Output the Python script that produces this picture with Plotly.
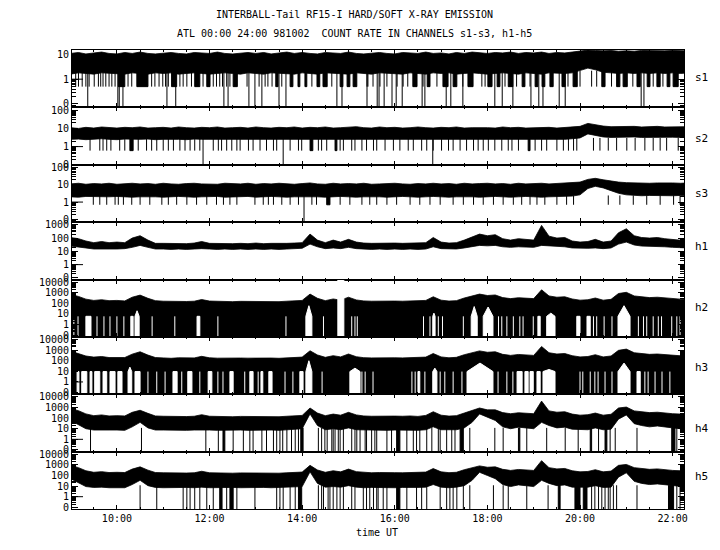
import plotly.graph_objects as go
from plotly.subplots import make_subplots

# ---------------- data ----------------
# 10-minute sample grid, decimal hours UT
TIME = [
    9.00, 9.17, 9.33, 9.50, 9.67, 9.83,
    10.00, 10.17, 10.33, 10.50, 10.67, 10.83,
    11.00, 11.17, 11.33, 11.50, 11.67, 11.83,
    12.00, 12.17, 12.33, 12.50, 12.67, 12.83,
    13.00, 13.17, 13.33, 13.50, 13.67, 13.83,
    14.00, 14.17, 14.33, 14.50, 14.67, 14.83,
    15.00, 15.17, 15.33, 15.50, 15.67, 15.83,
    16.00, 16.17, 16.33, 16.50, 16.67, 16.83,
    17.00, 17.17, 17.33, 17.50, 17.67, 17.83,
    18.00, 18.17, 18.33, 18.50, 18.67, 18.83,
    19.00, 19.17, 19.33, 19.50, 19.67, 19.83,
    20.00, 20.17, 20.33, 20.50, 20.67, 20.83,
    21.00, 21.17, 21.33, 21.50, 21.67, 21.83,
    22.00, 22.17, 22.33,
]

# ---- s1: upper / lower edge of the dense band, dropouts
S1_HI = [11, 12, 10.5, 11.5, 12.5, 11, 10.5, 12, 11, 12.5, 11, 10.5,
         11.5, 12, 11, 10.5, 12, 11.5, 11, 12.5, 11, 10.5, 11.5, 12,
         11, 12, 10.5, 11.5, 12.5, 11, 12, 11, 10.5, 12, 11.5, 11,
         12.5, 11, 10.5, 11.5, 12, 11, 10.5, 12, 11.5, 11, 12.5, 11,
         11.5, 10.5, 12, 11, 12.5, 11.5, 11, 12, 11.5, 12.5, 11, 12,
         11.5, 12.5, 11, 12, 11.5, 12.5, 13.5, 15, 14.5, 14, 14.5, 13.5,
         14, 13.5, 14.5, 14, 13.5, 14, 14.5, 14, 14]
S1_LO = [1.6, 1.8, 1.7, 1.6, 1.8, 1.7, 1.7, 1.6, 1.8, 1.7, 1.6, 1.8,
         1.7, 1.8, 1.6, 1.7, 1.8, 1.7, 1.6, 1.7, 1.8, 1.7, 1.6, 1.8,
         1.7, 1.6, 1.8, 1.7, 1.7, 1.6, 1.8, 1.7, 1.6, 1.8, 1.7, 1.7,
         1.6, 1.8, 1.7, 1.6, 1.8, 1.7, 1.7, 1.6, 1.8, 1.7, 1.6, 1.8,
         1.7, 1.8, 1.6, 1.7, 1.8, 1.7, 1.6, 1.7, 1.8, 1.7, 1.6, 1.8,
         1.7, 1.6, 1.8, 1.7, 1.7, 1.8, 2.2, 2.8, 2.4, 1.9, 1.8, 1.7,
         1.8, 1.7, 1.8, 1.7, 1.8, 1.7, 1.8, 1.7, 1.8]
S1_MID_LEVEL = 0.5
S1_MID_SPIKES = [9.11, 9.17, 9.25, 9.33, 9.40, 9.51, 9.60, 9.65, 9.70, 9.76, 9.83, 9.89,
                 9.96, 10.24, 10.32, 10.75, 10.82, 10.91, 10.99, 11.05, 11.11, 11.36, 11.43,
                 11.51, 11.61, 11.86, 12.08, 12.15, 12.22, 12.28, 12.37, 12.44, 12.81, 13.07,
                 13.20, 13.26, 13.35, 13.56, 14.21, 14.64, 15.40, 15.42, 15.53, 15.68, 15.83,
                 16.05, 16.18, 16.28, 16.61, 16.91, 17.47, 17.88, 17.95, 18.38, 18.63, 18.92,
                 19.74, 20.00, 20.25, 20.36, 20.68, 21.14, 21.58, 21.79]
S1_MID_START = [10.03, 10.43, 11.18, 11.68, 11.94, 12.51, 13.43, 13.74, 13.91, 14.06, 14.32,
                14.45, 14.82, 14.97, 15.10, 16.39, 16.70, 17.04, 17.26, 17.58, 18.01, 18.21,
                18.45, 18.75, 19.03, 19.18, 19.35, 19.61, 19.85, 20.47, 20.79, 20.93, 21.23,
                21.45, 21.66, 21.88, 22.01]
S1_MID_END = [10.17, 10.67, 11.29, 11.79, 12.01, 12.60, 13.48, 13.80, 13.95, 14.10, 14.38,
              14.54, 14.88, 15.03, 15.18, 16.48, 16.76, 17.15, 17.34, 17.69, 18.10, 18.27,
              18.55, 18.81, 19.09, 19.24, 19.42, 19.68, 19.94, 20.54, 20.86, 21.02, 21.30,
              21.51, 21.73, 21.94, 22.12]
S1_ZERO_SPIKES = [9.37, 10.02, 10.05, 10.13, 11.08, 11.27, 12.31, 12.40, 12.85, 12.98, 13.13,
                  13.50, 13.65, 14.75, 14.86, 15.40, 15.62, 15.66, 15.77, 15.94, 16.03, 16.16,
                  16.59, 16.65, 17.11, 17.21, 17.47, 18.16, 18.32, 18.55, 18.94, 19.11, 19.20,
                  19.55, 19.68, 21.32, 21.38]

# ---- s2
S2_HI = [11, 10, 11.5, 10.5, 12, 11, 10.5, 11.5, 11, 12, 10.5, 11,
         11.5, 10.5, 12, 11, 10.5, 11.5, 11, 12, 10.5, 11, 11.5, 10.5,
         12, 11, 10.5, 11.5, 11, 12, 10.5, 11.5, 11, 12, 10.5, 11,
         11.5, 12.5, 11, 10.5, 12, 11, 11.5, 10.5, 11, 12, 11, 10.5,
         11.5, 11, 12, 10.5, 11, 11.5, 11, 10.5, 12, 11, 11.5, 10.5,
         11, 12, 11.5, 10.5, 11, 11.5, 13, 19, 16, 13.5, 12.5, 13,
         12.5, 13, 12, 12.5, 13, 12, 12.5, 13, 12.5]
S2_LO = [2.5, 2.6, 2.4, 2.5, 2.7, 2.5, 2.4, 2.6, 2.5, 2.5, 2.6, 2.4,
         2.5, 2.6, 2.5, 2.4, 2.6, 2.5, 2.5, 2.4, 2.6, 2.5, 2.5, 2.6,
         2.4, 2.5, 2.6, 2.5, 2.4, 2.5, 2.6, 2.5, 2.5, 2.4, 2.6, 2.5,
         2.5, 2.6, 2.4, 2.5, 2.6, 2.5, 2.4, 2.5, 2.6, 2.5, 2.5, 2.4,
         2.6, 2.5, 2.5, 2.6, 2.4, 2.5, 2.5, 2.6, 2.5, 2.4, 2.6, 2.5,
         2.5, 2.4, 2.6, 2.5, 2.5, 2.7, 3.0, 5.0, 4.0, 3.4, 3.2, 3.3,
         3.2, 3.4, 3.2, 3.3, 3.2, 3.4, 3.3, 3.2, 3.3]
S2_MID_LEVEL = 0.6
S2_MID_SPIKES = [9.42, 9.63, 9.70, 9.78, 9.87, 10.06, 10.17, 10.46, 10.64, 10.75, 10.86, 11.00,
                 11.11, 11.22, 11.36, 11.47, 11.58, 11.68, 11.79, 12.08, 12.19, 12.26, 12.37,
                 12.48, 12.59, 12.66, 12.84, 12.94, 13.09, 13.23, 13.38, 13.45, 13.74, 13.92,
                 13.99, 14.35, 14.42, 14.53, 14.82, 14.89, 15.07, 15.14, 15.29, 15.39, 15.54,
                 15.61, 15.79, 15.97, 16.11, 16.29, 16.40, 16.58, 16.69, 16.83, 17.01, 17.16,
                 17.26, 17.41, 17.55, 17.70, 17.80, 17.91, 18.02, 18.16, 18.31, 18.45, 18.53,
                 18.67, 19.03, 19.17, 19.28, 19.50, 19.64, 19.75, 19.86, 19.93, 20.29, 20.43,
                 20.61, 20.79, 21.01, 21.19, 21.40, 21.58, 21.73, 21.87, 22.12]
S2_MID_START = [10.28, 14.17, 14.71, 18.88]
S2_MID_END = [10.35, 14.23, 14.75, 18.92]
S2_ZERO_SPIKES = [11.86, 13.59, 16.82]

# ---- s3
S3_HI = [11, 12, 10.5, 11.5, 11, 12, 10.5, 11, 12, 11, 11.5, 10.5,
         12, 11, 10.5, 11.5, 12, 11, 11, 10.5, 12, 11.5, 11, 12,
         10.5, 11.5, 11, 12, 11, 10.5, 11.5, 12.5, 11, 10.5, 12, 11,
         11.5, 11, 12, 10.5, 11, 11.5, 12, 11, 10.5, 11.5, 11, 12,
         11, 11.5, 10.5, 12, 11, 11.5, 12, 11, 11.5, 10.5, 12, 11,
         11.5, 12, 11, 11.5, 12, 12.5, 14, 20, 23, 19, 16, 14,
         13, 12.5, 13, 12, 12.5, 13, 12.5, 12, 12.5]
S3_LO = [2.0, 1.9, 2.1, 2.0, 1.9, 2.0, 2.1, 2.0, 1.9, 2.0, 2.1, 2.0,
         1.9, 2.0, 2.1, 2.0, 1.9, 2.0, 2.0, 2.1, 1.9, 2.0, 2.0, 2.1,
         1.9, 2.0, 2.1, 2.0, 1.9, 2.0, 2.0, 2.1, 2.0, 1.9, 2.0, 2.1,
         2.0, 1.9, 2.0, 2.1, 2.0, 1.9, 2.0, 2.1, 2.0, 1.9, 2.0, 2.1,
         2.0, 1.9, 2.0, 2.1, 2.0, 1.9, 2.0, 2.1, 2.0, 1.9, 2.0, 2.1,
         2.0, 1.9, 2.0, 2.1, 2.0, 2.2, 2.6, 6.0, 8.0, 6.5, 4.5, 3.2,
         2.6, 2.4, 2.3, 2.4, 2.3, 2.4, 2.3, 2.4, 2.3]
S3_MID_LEVEL = 0.7
S3_MID_SPIKES = [9.49, 9.63, 9.78, 9.96, 10.03, 10.14, 10.32, 10.50, 10.71, 10.97, 11.11, 11.29,
                 11.51, 11.72, 11.94, 12.15, 12.30, 12.44, 12.59, 12.98, 13.16, 13.27, 13.38,
                 13.56, 13.74, 13.92, 14.21, 14.31, 14.82, 15.03, 15.29, 15.46, 15.61, 15.83,
                 16.04, 16.33, 16.54, 16.76, 16.98, 17.26, 17.48, 17.70, 17.91, 18.13, 18.34,
                 18.56, 18.74, 18.92, 19.07, 19.24, 19.50, 19.71, 19.86, 20.61, 20.86, 21.15,
                 21.44, 21.73, 22.02, 22.16]
S3_MID_START = [14.53]
S3_MID_END = [14.60]
S3_ZERO_SPIKES = [14.04]

# ---- h1
H1_HI = [110, 90, 60, 45, 55, 45, 50, 45, 100, 150, 70, 40,
         40, 38, 40, 38, 42, 55, 40, 38, 40, 38, 40, 38,
         42, 38, 40, 38, 40, 42, 45, 200, 70, 45, 70, 50,
         80, 50, 42, 40, 42, 40, 42, 40, 42, 40, 45, 110,
         50, 42, 45, 70, 120, 200, 150, 180, 90, 70, 90, 80,
         70, 900, 140, 100, 110, 60, 50, 55, 80, 50, 60, 250,
         500, 150, 110, 100, 110, 90, 80, 70, 60]
H1_LO = [25, 22, 18, 15, 16, 15, 15, 16, 20, 28, 20, 15,
         15, 14, 15, 14, 15, 16, 15, 14, 15, 14, 15, 14,
         15, 14, 15, 14, 15, 15, 17, 35, 22, 16, 18, 16,
         20, 16, 15, 14, 15, 14, 15, 14, 15, 14, 15, 22,
         16, 15, 15, 18, 22, 28, 26, 28, 22, 20, 22, 20,
         20, 28, 26, 22, 22, 18, 17, 17, 18, 16, 18, 35,
         50, 30, 25, 24, 25, 22, 20, 18, 18]

# ---- h2 (count rate drops to zero almost continuously; white gaps listed)
H2_HI = [700, 450, 250, 190, 220, 180, 190, 170, 380, 600, 300, 180,
         160, 150, 165, 150, 160, 230, 165, 150, 160, 145, 155, 150,
         160, 150, 155, 145, 160, 170, 190, 750, 300, 180, 260, 200,
         380, 210, 170, 160, 170, 155, 165, 160, 170, 155, 190, 420,
         200, 165, 180, 320, 520, 750, 550, 620, 350, 280, 340, 300,
         280, 1900, 500, 380, 420, 260, 200, 220, 320, 200, 240, 850,
         1100, 500, 400, 350, 380, 320, 280, 250, 230]
H2_GAP_LEVEL = 6
H2_GAP_SINGLE = [9.07, 9.16, 9.57, 9.72, 9.85, 10.00, 10.15, 10.76, 11.25, 12.18, 13.65, 14.46,
                 15.07, 15.14, 15.19, 16.62, 16.76, 16.94, 17.03, 17.48, 18.24, 18.31, 18.42,
                 18.56, 18.70, 18.77, 18.99, 20.29, 20.36, 20.52, 20.69, 21.26, 21.37, 21.44,
                 21.58, 21.69, 21.76, 21.98, 22.09, 22.16]
H2_GAP_START = [9.33, 10.30, 10.39, 11.73, 14.08, 16.82, 17.65, 17.91, 19.09, 19.28, 19.93, 20.15, 20.82]
H2_GAP_END = [9.44, 10.35, 10.48, 11.79, 14.21, 16.87, 17.78, 18.12, 19.14, 19.46, 20.00, 20.22, 21.08]
H2_GAP_PEAK = [6, 6, 20, 6, 60, 12, 50, 45, 6, 12, 6, 6, 60]
H2_NODATA_START = [14.77]
H2_NODATA_END = [14.90]

# ---- h3
H3_HI = [800, 500, 280, 220, 250, 200, 210, 200, 420, 700, 340, 200,
         185, 170, 190, 175, 185, 260, 190, 175, 185, 170, 180, 175,
         185, 175, 180, 170, 185, 195, 220, 870, 350, 210, 300, 230,
         430, 240, 195, 185, 195, 180, 190, 185, 195, 180, 220, 480,
         230, 190, 210, 370, 600, 850, 630, 700, 400, 320, 390, 340,
         320, 2200, 570, 430, 480, 300, 230, 250, 370, 230, 280, 950,
         1250, 570, 460, 400, 430, 370, 320, 290, 260]
H3_GAP_LEVEL = 9.5
H3_GAP_SINGLE = [10.67, 10.86, 11.04, 11.40, 11.79, 12.18, 12.29, 12.76, 13.05, 13.63, 13.80,
                 14.43, 15.29, 15.36, 15.53, 16.37, 16.44, 16.65, 16.98, 17.08, 17.26, 17.45,
                 18.23, 18.42, 18.55, 20.00, 20.06, 20.22, 20.32, 20.39, 20.54, 20.69, 21.40,
                 21.47, 21.62, 21.77, 21.94]
H3_GAP_START = [9.14, 9.24, 9.42, 9.52, 9.70, 9.85, 10.02, 10.24, 10.39, 11.21, 11.53, 11.97,
                12.44, 12.87, 13.11, 13.28, 13.95, 14.08, 15.03, 16.50, 16.82, 17.56, 18.64,
                18.81, 18.92, 19.07, 19.20, 20.82, 21.23]
H3_GAP_END = [9.18, 9.35, 9.46, 9.63, 9.78, 9.96, 10.11, 10.32, 10.50, 11.30, 11.62, 12.05,
              12.51, 12.94, 13.15, 13.35, 14.02, 14.21, 15.25, 16.54, 16.91, 18.12, 18.75,
              18.88, 18.99, 19.14, 19.46, 21.08, 21.30]
H3_GAP_PEAK = [9.5, 9.5, 9.5, 9.5, 9.5, 9.5, 9.5, 25, 9.5, 9.5, 9.5, 9.5,
               9.5, 9.5, 9.5, 9.5, 9.5, 100, 20, 9.5, 20, 60, 9.5,
               9.5, 9.5, 9.5, 15, 60, 9.5]

# ---- h4
H4_HI = [800, 500, 250, 170, 200, 160, 170, 160, 350, 550, 280, 160,
         150, 140, 150, 140, 150, 210, 150, 140, 150, 135, 145, 140,
         150, 140, 145, 135, 150, 160, 180, 900, 300, 170, 240, 190,
         350, 200, 160, 150, 160, 145, 155, 150, 160, 145, 180, 400,
         190, 155, 170, 300, 500, 900, 600, 600, 330, 260, 320, 280,
         260, 4000, 480, 360, 400, 240, 190, 210, 300, 190, 230, 900,
         1100, 480, 380, 330, 360, 300, 260, 240, 220]
H4_LO = [60, 25, 10, 7.5, 8, 7.5, 7.5, 7, 15, 40, 12, 7.5,
         7.5, 7, 7.5, 7, 7.5, 8, 7.5, 7, 7.5, 7, 7.5, 7,
         7.5, 7, 7.5, 7, 7.5, 8, 10, 250, 20, 8, 10, 8,
         12, 8, 7.5, 7, 7.5, 7, 7.5, 7, 7.5, 7, 8, 15,
         8, 7.5, 8, 12, 40, 250, 120, 60, 15, 10, 14, 12,
         10, 40, 20, 12, 14, 9, 8, 8, 12, 8, 9, 80,
         200, 30, 20, 15, 18, 14, 12, 10, 9]
H4_ZERO_SPIKES = [9.43, 10.53, 11.92, 12.19, 12.51, 12.73, 12.87, 12.94, 13.13, 13.23, 13.38,
                  13.45, 13.52, 13.58, 13.67, 13.77, 13.85, 13.92, 14.35, 14.42, 14.49, 14.54,
                  14.64, 14.67, 14.71, 14.78, 14.82, 14.89, 15.07, 15.14, 15.18, 15.25, 15.36,
                  15.39, 15.50, 15.57, 15.61, 15.83, 15.93, 16.26, 16.40, 16.47, 16.54, 16.69,
                  16.80, 16.94, 16.98, 17.12, 17.23, 17.30, 17.62, 18.16, 18.34, 18.85, 19.28,
                  19.68, 19.96, 20.40, 20.65, 20.76, 21.23, 22.09]
H4_ZERO_START = [12.29, 13.97, 16.04, 17.41, 18.67, 20.22, 20.54, 21.98]
H4_ZERO_END = [12.33, 14.02, 16.11, 17.48, 18.70, 20.25, 20.58, 22.05]

# ---- h5
H5_HI = [900, 550, 280, 200, 230, 190, 200, 190, 400, 650, 320, 190,
         180, 170, 180, 170, 180, 250, 180, 170, 180, 165, 175, 170,
         180, 170, 175, 165, 180, 190, 210, 900, 330, 200, 280, 220,
         400, 230, 190, 180, 190, 175, 185, 180, 190, 175, 210, 450,
         220, 185, 200, 350, 550, 800, 600, 650, 380, 300, 370, 330,
         300, 2500, 550, 420, 460, 280, 220, 240, 350, 220, 260, 900,
         1100, 550, 440, 380, 420, 350, 300, 280, 250]
H5_LO = [50, 22, 9, 7.5, 8, 7, 7.5, 7, 14, 35, 11, 7.5,
         7, 7.5, 7, 7.5, 7, 8, 7, 7.5, 7, 7.5, 7, 7.5,
         7, 7.5, 7, 7.5, 7, 8, 9, 220, 18, 8, 9, 8,
         11, 8, 7, 7.5, 7, 7.5, 7, 7.5, 7, 7.5, 8, 14,
         8, 7, 8, 11, 35, 200, 100, 50, 14, 9, 13, 11,
         9, 35, 18, 11, 13, 8, 7.5, 8, 11, 7.5, 8, 70,
         180, 28, 18, 14, 16, 13, 11, 9, 8]
H5_ZERO_SPIKES = [10.50, 10.86, 11.43, 11.51, 11.58, 11.68, 11.79, 11.94, 12.08, 12.37, 12.59,
                  12.98, 13.45, 13.52, 13.59, 13.74, 13.85, 14.35, 14.42, 14.46, 14.56, 14.60,
                  14.67, 14.75, 14.82, 14.89, 15.07, 15.14, 15.32, 15.39, 15.46, 15.54, 15.61,
                  15.64, 15.75, 15.83, 16.26, 16.47, 16.58, 16.69, 16.98, 17.12, 17.19, 17.26,
                  17.34, 17.48, 17.62, 18.13, 18.34, 18.45, 18.85, 19.31, 20.25, 20.32, 20.40,
                  20.47, 20.54, 20.61, 20.65, 20.72, 20.79, 21.23, 22.09, 22.16]
H5_ZERO_START = [12.22, 12.44, 13.92, 16.04, 19.53, 19.89, 20.07, 21.91]
H5_ZERO_END = [12.27, 12.51, 13.99, 16.11, 19.57, 20.00, 20.15, 22.02]

CHANNELS = ["s1", "s2", "s3", "h1", "h2", "h3", "h4", "h5"]
TITLE = "INTERBALL-Tail RF15-I HARD/SOFT X-RAY EMISSION"
SUBTITLE = "ATL 00:00 24:00 981002  COUNT RATE IN CHANNELS s1-s3, h1-h5"
HOUR_TICKS = [10, 12, 14, 16, 18, 20, 22]
HOUR_LABELS = ["10:00", "12:00", "14:00", "16:00", "18:00", "20:00", "22:00"]

for arr in (S1_HI, S1_LO, S2_HI, S2_LO, S3_HI, S3_LO, H1_HI, H1_LO, H2_HI, H3_HI,
            H4_HI, H4_LO, H5_HI, H5_LO):
    assert len(arr) == len(TIME), len(arr)

# ---------------- drawing ----------------
ZERO_COUNT = 0.01   # a zero count rate sits on the floor of its log panel
FONT = "DejaVu Sans Mono"
BLACK = "#000000"
WHITE = "#ffffff"

fig = make_subplots(rows=8, cols=1, shared_xaxes=True, vertical_spacing=0)


def add_band(row, lo, hi):
    fig.add_trace(go.Scatter(x=TIME, y=lo, mode="lines", line=dict(color=BLACK, width=0.8),
                             hoverinfo="skip", showlegend=False), row=row, col=1)
    fig.add_trace(go.Scatter(x=TIME, y=hi, mode="lines", fill="tonexty", fillcolor=BLACK,
                             line=dict(color=BLACK, width=0.8),
                             hoverinfo="skip", showlegend=False), row=row, col=1)


def add_floor_band(row, hi):
    xs = TIME + TIME[::-1]
    ys = hi + [ZERO_COUNT] * len(TIME)
    fig.add_trace(go.Scatter(x=xs, y=ys, mode="lines", fill="toself", fillcolor=BLACK,
                             line=dict(color=BLACK, width=0.8),
                             hoverinfo="skip", showlegend=False), row=row, col=1)


def add_rects(row, starts, ends, top, bottom, color):
    xs, ys = [], []
    for a, b in zip(starts, ends):
        xs += [a, a, b, b, a, None]
        ys += [top, bottom, bottom, top, top, None]
    fig.add_trace(go.Scatter(x=xs, y=ys, mode="lines", fill="toself", fillcolor=color,
                             line=dict(color=color, width=1),
                             hoverinfo="skip", showlegend=False), row=row, col=1)


def add_spikes(row, times, top, bottom, color):
    xs, ys = [], []
    for t in times:
        xs += [t, t, None]
        ys += [top, bottom, None]
    fig.add_trace(go.Scatter(x=xs, y=ys, mode="lines", line=dict(color=color, width=1),
                             hoverinfo="skip", showlegend=False), row=row, col=1)


def add_gaps(row, starts, ends, peaks, level):
    xs, ys = [], []
    for a, b, p in zip(starts, ends, peaks):
        if p <= level:
            xs += [a, a, b, b, a, None]
            ys += [ZERO_COUNT, level, level, ZERO_COUNT, ZERO_COUNT, None]
        else:
            m = (a + b) / 2
            xs += [a, a, m, b, b, a, None]
            ys += [ZERO_COUNT, level, p, level, ZERO_COUNT, ZERO_COUNT, None]
    fig.add_trace(go.Scatter(x=xs, y=ys, mode="lines", fill="toself", fillcolor=WHITE,
                             line=dict(color=WHITE, width=1),
                             hoverinfo="skip", showlegend=False), row=row, col=1)


# s1
add_band(1, S1_LO, S1_HI)
add_spikes(1, S1_MID_SPIKES, 2.2, S1_MID_LEVEL, BLACK)
add_rects(1, S1_MID_START, S1_MID_END, 2.2, S1_MID_LEVEL, BLACK)
add_spikes(1, S1_ZERO_SPIKES, 2.2, ZERO_COUNT, BLACK)
# s2
add_band(2, S2_LO, S2_HI)
add_spikes(2, S2_MID_SPIKES, 3.0, S2_MID_LEVEL, BLACK)
add_rects(2, S2_MID_START, S2_MID_END, 3.0, S2_MID_LEVEL, BLACK)
add_spikes(2, S2_ZERO_SPIKES, 3.0, ZERO_COUNT, BLACK)
# s3
add_band(3, S3_LO, S3_HI)
add_spikes(3, S3_MID_SPIKES, 2.4, S3_MID_LEVEL, BLACK)
add_rects(3, S3_MID_START, S3_MID_END, 2.4, S3_MID_LEVEL, BLACK)
add_spikes(3, S3_ZERO_SPIKES, 2.4, ZERO_COUNT, BLACK)
# h1
add_band(4, H1_LO, H1_HI)
# h2
add_floor_band(5, H2_HI)
add_spikes(5, H2_GAP_SINGLE, H2_GAP_LEVEL, ZERO_COUNT, WHITE)
add_gaps(5, H2_GAP_START, H2_GAP_END, H2_GAP_PEAK, H2_GAP_LEVEL)
add_rects(5, H2_NODATA_START, H2_NODATA_END, 1e5, ZERO_COUNT, WHITE)
# h3
add_floor_band(6, H3_HI)
add_spikes(6, H3_GAP_SINGLE, H3_GAP_LEVEL, ZERO_COUNT, WHITE)
add_gaps(6, H3_GAP_START, H3_GAP_END, H3_GAP_PEAK, H3_GAP_LEVEL)
# h4
add_band(7, H4_LO, H4_HI)
add_spikes(7, H4_ZERO_SPIKES, 12, ZERO_COUNT, BLACK)
add_rects(7, H4_ZERO_START, H4_ZERO_END, 12, ZERO_COUNT, BLACK)
# h5
add_band(8, H5_LO, H5_HI)
add_spikes(8, H5_ZERO_SPIKES, 12, ZERO_COUNT, BLACK)
add_rects(8, H5_ZERO_START, H5_ZERO_END, 12, ZERO_COUNT, BLACK)

# ---------------- axes ----------------
Y_RANGES = [(-1.14, 1.18), (-1.0, 2.16), (-1.15, 2.14), (-1.12, 3.2),
            (-1.16, 4.25), (-1.16, 4.25), (-1.16, 4.25), (-1.16, 4.25)]
Y_TOP_DECADE = [1, 2, 2, 3, 4, 4, 4, 4]
MINOR_VALS = [m * 10.0 ** e for e in range(-2, 5) for m in range(2, 10)]

fig.update_xaxes(range=[9.03, 22.245], showline=True, linecolor=BLACK, linewidth=1,
                 mirror="ticks", ticks="inside", ticklen=4, tickwidth=1, tickcolor=BLACK,
                 tickmode="array", tickvals=HOUR_TICKS, ticktext=HOUR_LABELS,
                 showgrid=False, zeroline=False, automargin=False,
                 minor=dict(ticks="inside", ticklen=2, tickwidth=1, tickcolor=BLACK,
                            tickmode="linear", tick0=9, dtick=0.5, showgrid=False),
                 tickfont=dict(family=FONT, size=10, color=BLACK))

for i in range(8):
    top = Y_TOP_DECADE[i]
    vals = [10.0 ** e for e in range(-1, top + 1)]
    texts = ["0"] + [str(int(round(v))) for v in vals[1:]]
    fig.update_yaxes(type="log", range=list(Y_RANGES[i]), showline=True, linecolor=BLACK,
                     linewidth=1, mirror="ticks", ticks="inside", ticklen=6, tickwidth=1,
                     tickcolor=BLACK, tickmode="array", tickvals=vals, ticktext=texts,
                     showgrid=False, zeroline=False, automargin=False,
                     minor=dict(ticks="inside", ticklen=4, tickwidth=1, tickcolor=BLACK,
                                tickmode="array", tickvals=MINOR_VALS, showgrid=False),
                     tickfont=dict(family=FONT, size=10, color=BLACK),
                     row=i + 1, col=1)
    fig.add_shape(type="line", xref="x domain", yref="y", x0=0, x1=0.018, y0=1, y1=1,
                  line=dict(color=BLACK, width=1), row=i + 1, col=1)

# ---------------- text ----------------
ann = []
LABEL_Y = [0.939, 0.808, 0.688, 0.571, 0.438, 0.309, 0.176, 0.070]
for name, yy in zip(CHANNELS, LABEL_Y):
    ann.append(dict(text=name, x=1.015, y=yy, xref="paper", yref="paper",
                    xanchor="left", yanchor="middle", showarrow=False,
                    font=dict(family=FONT, size=11, color=BLACK)))
ann.append(dict(text=TITLE, x=0.461, y=1.078, xref="paper", yref="paper", xanchor="center",
                yanchor="middle", showarrow=False, font=dict(family=FONT, size=10, color=BLACK)))
ann.append(dict(text=SUBTITLE, x=0.461, y=1.037, xref="paper", yref="paper", xanchor="center",
                yanchor="middle", showarrow=False, font=dict(family=FONT, size=10, color=BLACK)))
ann.append(dict(text="time UT", x=0.498, y=-0.052, xref="paper", yref="paper", xanchor="center",
                yanchor="middle", showarrow=False, font=dict(family=FONT, size=10, color=BLACK)))

fig.update_layout(width=720, height=550,
                  margin=dict(l=72, r=36, t=50, b=41, pad=0, autoexpand=False),
                  paper_bgcolor=WHITE, plot_bgcolor=WHITE, showlegend=False,
                  annotations=ann, font=dict(family=FONT, size=10, color=BLACK))

fig.write_html("out.html", config={"displayModeBar": False, "staticPlot": True})

# remove the browser's default 8px page margin so the figure sits at the window origin
with open("out.html", "r", encoding="utf-8") as fh:
    page = fh.read()
page = page.replace("<head>", "<head><style>html,body{margin:0;padding:0;overflow:hidden;}</style>", 1)
with open("out.html", "w", encoding="utf-8") as fh:
    fh.write(page)
